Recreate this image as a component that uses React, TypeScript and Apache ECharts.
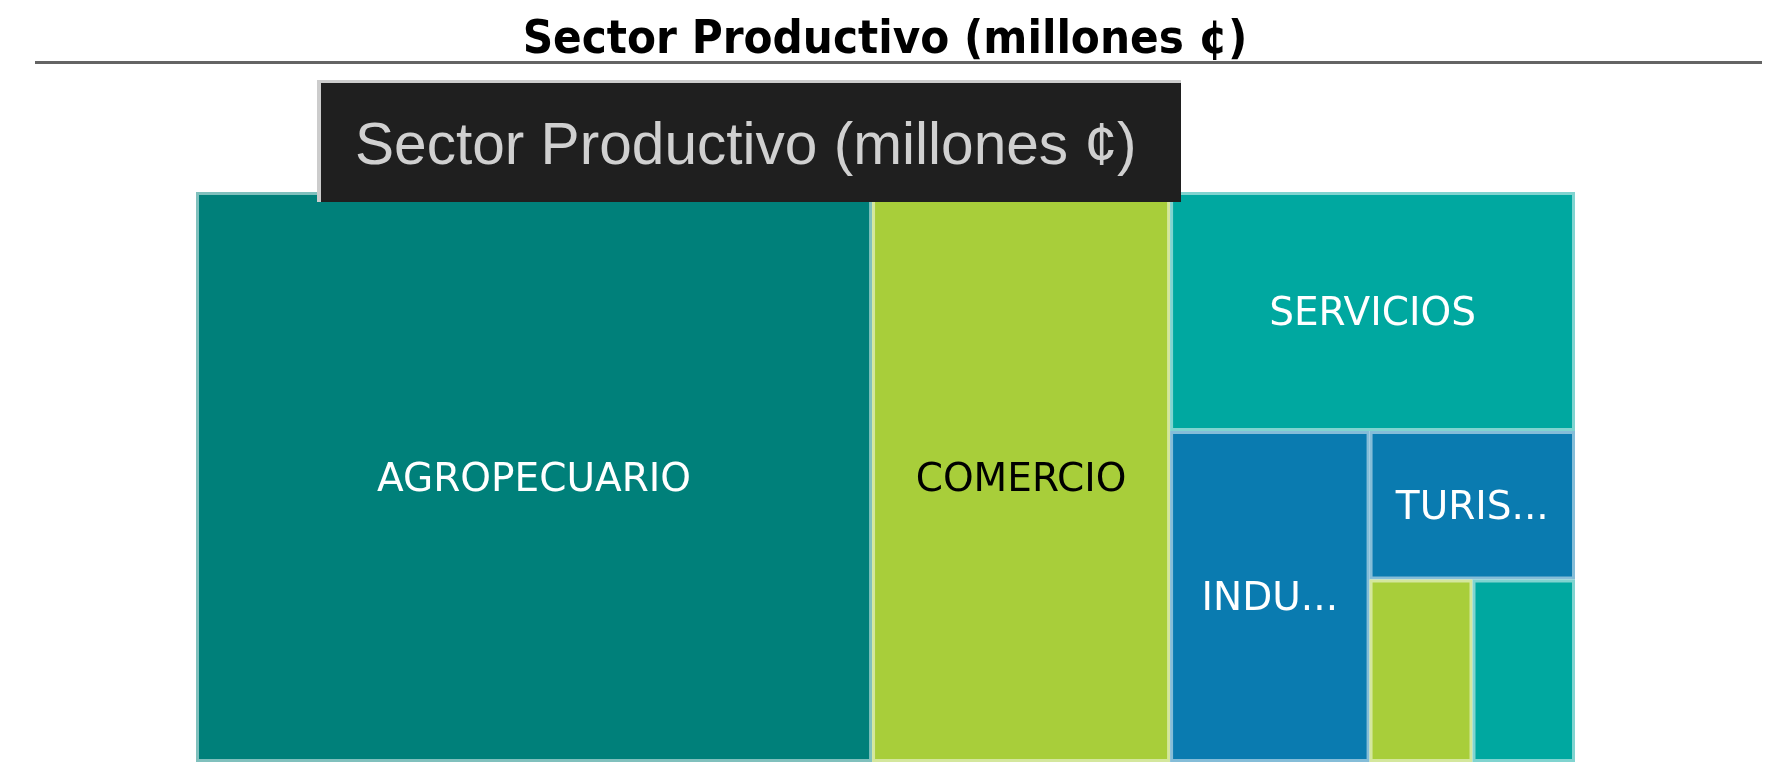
import React, { useEffect, useRef } from 'react';
import * as echarts from 'echarts';

const titleText = 'Sector Productivo (millones ¢)';
const tooltipText = 'Sector Productivo (millones ¢)';

const categories = ['AGROPECUARIO', 'COMERCIO', 'SERVICIOS', 'INDUSTRIA', 'TURISMO', 'TRANSPORTE', 'OTROS'];
const values = [4902, 2161, 1231, 840, 388, 239, 238];
const colors = ['#00807A', '#A8CE3A', '#00A8A0', '#0A7BB0', '#0A7BB0', '#A8CE3A', '#00A8A0'];
const labelColors = ['#ffffff', '#000000', '#ffffff', '#ffffff', '#ffffff', '#ffffff', '#ffffff'];
const labelShown = [true, true, true, true, true, false, false];
const labelPads = [20, 20, 20, 20, 14, 20, 20];

function tint(hex: string, t: number): string {
  const n = parseInt(hex.slice(1), 16);
  const r = (n >> 16) & 255;
  const g = (n >> 8) & 255;
  const b = n & 255;
  const m = (c: number) => Math.round(c + (255 - c) * t);
  return `rgb(${m(r)},${m(g)},${m(b)})`;
}

export default function App() {
  const ref = useRef<HTMLDivElement>(null);
  useEffect(() => {
    if (!ref.current) return;
    const chart = echarts.init(ref.current, null, { renderer: 'svg' });
    chart.setOption({
      animation: false,
      series: [
        {
          type: 'treemap',
          left: 196,
          top: 192,
          width: 1379,
          height: 570,
          squareRatio: 1,
          roam: false,
          nodeClick: false,
          breadcrumb: { show: false },
          sort: 'desc',
          itemStyle: { borderWidth: 0, gapWidth: 0 },
          label: {
            show: true,
            position: 'inside',
            fontFamily: 'DejaVu Sans',
            fontSize: 39,
            color: '#ffffff',
            padding: [0, 20],
            overflow: 'truncate',
            ellipsis: '...',
          },
          upperLabel: { show: false },
          data: categories.map((name, i) => ({
            name,
            value: values[i],
            itemStyle: {
              color: colors[i],
              borderColor: tint(colors[i], 0.5),
              borderWidth: 3,
            },
            label: { show: labelShown[i], color: labelColors[i], padding: [0, labelPads[i]] },
          })),
        },
      ],
      graphic: [
        {
          type: 'line',
          z: 100,
          shape: { x1: 35, y1: 62.5, x2: 1762, y2: 62.5 },
          style: { stroke: '#646464', lineWidth: 3 },
        },
        {
          type: 'text',
          z: 100,
          x: 885,
          y: 36,
          style: {
            text: titleText,
            fontFamily: "'DejaVu Sans Condensed', 'DejaVu Sans'",
            fontWeight: 'bold',
            fontSize: 47,
            fill: '#000000',
            align: 'center',
            verticalAlign: 'middle',
            textAlign: 'center',
            textVerticalAlign: 'middle',
          },
        },
        {
          type: 'rect',
          z: 100,
          shape: { x: 317, y: 80, width: 864, height: 122 },
          style: { fill: '#cccccc' },
        },
        {
          type: 'rect',
          z: 101,
          shape: { x: 321, y: 83, width: 860, height: 119 },
          style: { fill: '#1f1f1f' },
        },
        {
          type: 'text',
          z: 102,
          x: 355,
          y: 143,
          style: {
            text: tooltipText,
            fontFamily: 'Liberation Sans',
            fontSize: 58.6,
            fill: '#d0d0d0',
            align: 'left',
            verticalAlign: 'middle',
            textAlign: 'left',
            textVerticalAlign: 'middle',
          },
        },
      ],
    });
    return () => chart.dispose();
  }, []);
  return (
    <div
      ref={ref}
      style={{ position: 'fixed', left: 0, top: 0, width: 1771, height: 762 }}
    />
  );
}
